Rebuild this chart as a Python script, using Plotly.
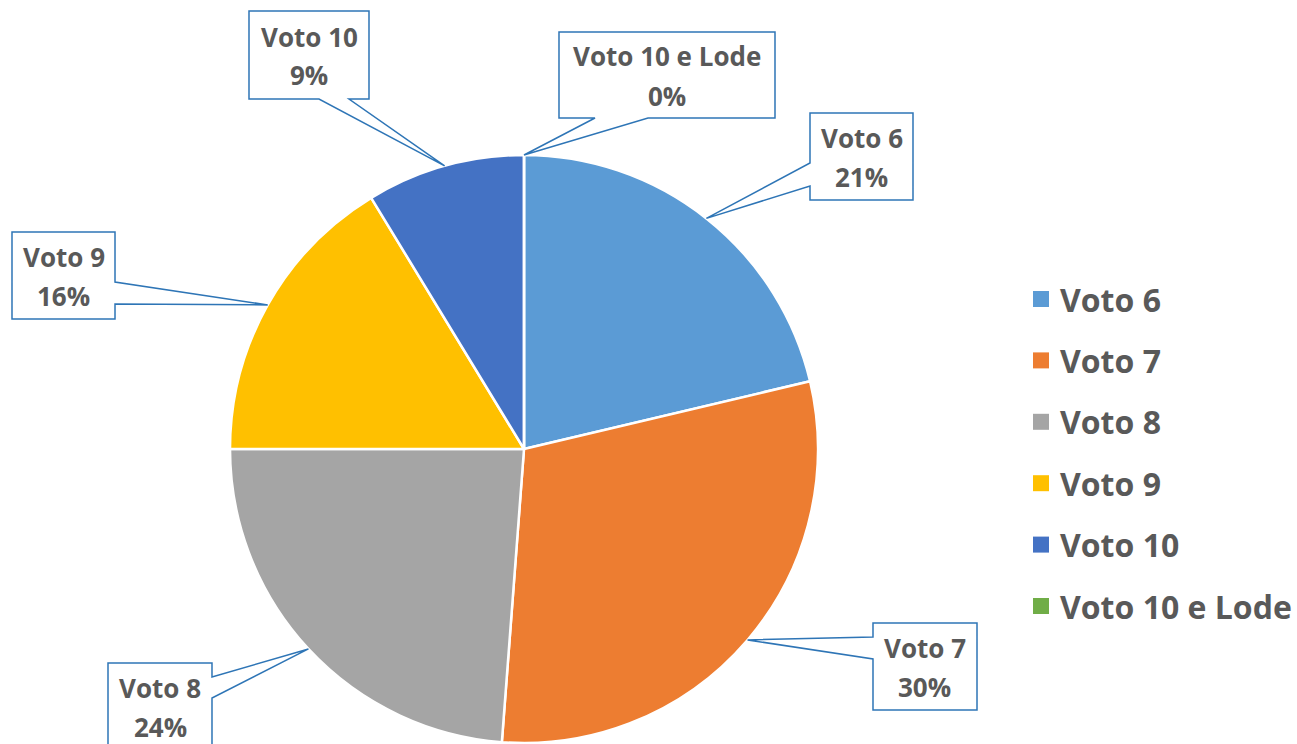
import math
import plotly.graph_objects as go

# ---------------- data ----------------
categories = ["Voto 6", "Voto 7", "Voto 8", "Voto 9", "Voto 10", "Voto 10 e Lode"]
values = [21.3, 29.9, 23.8, 16.3, 8.7, 0.0]
colors = ["#5B9BD5", "#ED7D31", "#A5A5A5", "#FFC000", "#4472C4", "#70AD47"]

# ---------------- layout constants (pixels) ----------------
W, H = 1297, 744
CX, CY, R = 524, 449, 294
TEXT_COLOR = "#595959"
CALLOUT_COLOR = "#2E75B6"
FONT = "Open Sans"

callout_boxes = {
    "Voto 6": dict(x0=810, y0=113, x1=913, y1=200, side="left", b0=163, b1=186),
    "Voto 7": dict(x0=873, y0=623, x1=977, y1=710, side="left", b0=637, b1=659),
    "Voto 8": dict(x0=108, y0=663, x1=212, y1=750, side="right", b0=677, b1=698),
    "Voto 9": dict(x0=12, y0=232, x1=115, y1=319, side="right", b0=282, b1=304),
    "Voto 10": dict(x0=249, y0=11, x1=369, y1=99, side="bottom", b0=319, b1=349),
    "Voto 10 e Lode": dict(x0=559, y0=32, x1=775, y1=118, side="bottom", b0=595, b1=648),
}

legend_x = 1033
legend_y0 = 299
legend_step = 61.4
legend_sq = 16


def px(x):
    return x / W


def py(y):
    return 1 - y / H


fig = go.Figure()
fig.add_trace(go.Pie(
    labels=categories,
    values=values,
    sort=False,
    direction="clockwise",
    rotation=0,
    marker=dict(colors=colors, line=dict(color="white", width=2.5)),
    textinfo="none",
    hoverinfo="label+percent",
    showlegend=False,
    domain=dict(x=[px(CX - R), px(CX + R)], y=[py(CY + R), py(CY - R)]),
))

shapes = []
annotations = []
total = sum(values)
cum = 0.0
for cat, v in zip(categories, values):
    mid = (cum + v / 2) / total * 2 * math.pi
    cum += v
    tx = CX + R * math.sin(mid)
    ty = CY - R * math.cos(mid)
    b = callout_boxes[cat]
    x0, y0, x1, y1 = b["x0"], b["y0"], b["x1"], b["y1"]
    if b["side"] == "left":
        pts = [(x0, y0), (x1, y0), (x1, y1), (x0, y1), (x0, b["b1"]), (tx, ty), (x0, b["b0"])]
    elif b["side"] == "right":
        pts = [(x0, y0), (x1, y0), (x1, b["b0"]), (tx, ty), (x1, b["b1"]), (x1, y1), (x0, y1)]
    else:
        pts = [(x0, y0), (x1, y0), (x1, y1), (b["b1"], y1), (tx, ty), (b["b0"], y1), (x0, y1)]
    path = "M " + " L ".join(f"{px(a):.5f},{py(c):.5f}" for a, c in pts) + " Z"
    shapes.append(dict(type="path", path=path, xref="paper", yref="paper",
                       fillcolor="white", line=dict(color=CALLOUT_COLOR, width=1.5),
                       layer="above"))
    pct = round(v / total * 100)
    cxb, cyb = (x0 + x1) / 2, (y0 + y1) / 2
    for txt, dy in ((cat, -18.5), (f"{pct}%", 20.5)):
        annotations.append(dict(
            x=px(cxb), y=py(cyb + dy), xref="paper", yref="paper",
            text=txt, showarrow=False, xanchor="center", yanchor="middle",
            font=dict(family=FONT, size=26, color=TEXT_COLOR, weight="bold"),
        ))

# custom legend
for i, (cat, col) in enumerate(zip(categories, colors)):
    yc = legend_y0 + i * legend_step
    shapes.append(dict(type="rect", xref="paper", yref="paper",
                       x0=px(legend_x), x1=px(legend_x + legend_sq),
                       y0=py(yc + legend_sq / 2), y1=py(yc - legend_sq / 2),
                       fillcolor=col, line=dict(width=0)))
    annotations.append(dict(
        x=px(legend_x + 25), y=py(yc), xref="paper", yref="paper",
        text=cat, showarrow=False, xanchor="left", yanchor="middle",
        font=dict(family=FONT, size=32, color=TEXT_COLOR, weight="bold"),
    ))

fig.update_layout(
    width=W, height=H,
    margin=dict(l=0, r=0, t=0, b=0),
    paper_bgcolor="white",
    plot_bgcolor="white",
    shapes=shapes,
    annotations=annotations,
    showlegend=False,
)

fig.write_html("out.html", config={"displayModeBar": False},
               post_script="document.body.style.margin='0px';")
